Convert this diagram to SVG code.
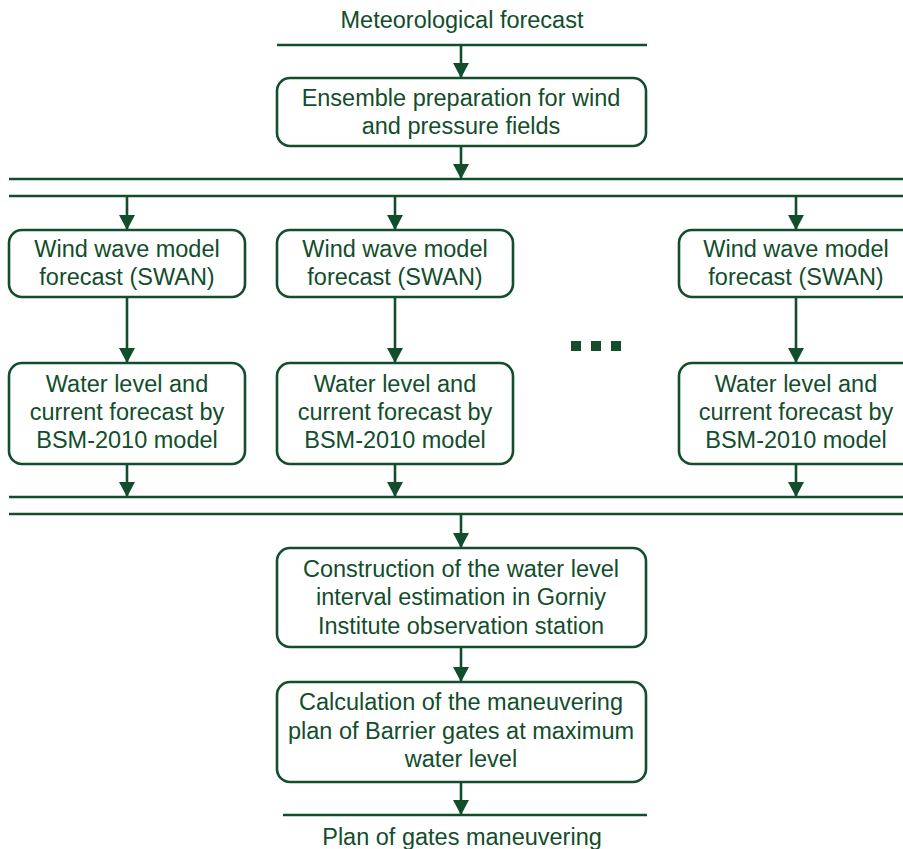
<svg xmlns="http://www.w3.org/2000/svg" width="903" height="849" viewBox="0 0 903 849">
<defs>
<style>
.b{fill:#fff;stroke:#124d2c;stroke-width:2.6}
.l{stroke:#124d2c;stroke-width:2.6;fill:none}
.t{font-family:"Liberation Sans",Arial,sans-serif;font-size:23.5px;fill:#124d2c;text-anchor:middle}
</style>
<marker id="ah" markerWidth="15" markerHeight="16" viewBox="0 0 15 16" refX="15" refY="8" orient="auto" markerUnits="userSpaceOnUse">
<path d="M0,0 L15,8 L0,16 Z" fill="#124d2c"/>
</marker>
</defs>
<rect width="903" height="849" fill="#fff"/>
<g id="connectors">
<line class="l" x1="277" y1="45" x2="647" y2="45"/>
<line class="l" x1="461" y1="45" x2="461" y2="78" marker-end="url(#ah)"/>
<line class="l" x1="461" y1="146" x2="461" y2="179" marker-end="url(#ah)"/>
<line class="l" x1="9" y1="179" x2="903" y2="179"/>
<line class="l" x1="9" y1="196" x2="903" y2="196"/>
<line class="l" x1="127" y1="196" x2="127" y2="230" marker-end="url(#ah)"/>
<line class="l" x1="395" y1="196" x2="395" y2="230" marker-end="url(#ah)"/>
<line class="l" x1="796" y1="196" x2="796" y2="230" marker-end="url(#ah)"/>
<line class="l" x1="127" y1="297" x2="127" y2="363" marker-end="url(#ah)"/>
<line class="l" x1="395" y1="297" x2="395" y2="363" marker-end="url(#ah)"/>
<line class="l" x1="796" y1="297" x2="796" y2="363" marker-end="url(#ah)"/>
<line class="l" x1="127" y1="464" x2="127" y2="497" marker-end="url(#ah)"/>
<line class="l" x1="395" y1="464" x2="395" y2="497" marker-end="url(#ah)"/>
<line class="l" x1="796" y1="464" x2="796" y2="497" marker-end="url(#ah)"/>
<line class="l" x1="9" y1="497" x2="903" y2="497"/>
<line class="l" x1="9" y1="514" x2="903" y2="514"/>
<line class="l" x1="461" y1="514" x2="461" y2="548" marker-end="url(#ah)"/>
<line class="l" x1="461" y1="647" x2="461" y2="682" marker-end="url(#ah)"/>
<line class="l" x1="461" y1="782" x2="461" y2="815" marker-end="url(#ah)"/>
<line class="l" x1="283" y1="815" x2="647" y2="815"/>
</g>
<g id="input"><text class="t" x="462" y="28">Meteorological forecast</text></g>
<g id="ensemble">
<rect class="b" x="277" y="78" width="369" height="68" rx="13"/>
<text class="t" x="461" y="106">Ensemble preparation for wind</text>
<text class="t" x="461" y="134">and pressure fields</text>
</g>
<g id="swan1">
<rect class="b" x="9" y="230" width="236" height="67" rx="13"/>
<text class="t" x="127" y="257">Wind wave model</text>
<text class="t" x="127" y="285">forecast (SWAN)</text>
</g>
<g id="swan2">
<rect class="b" x="277" y="230" width="236" height="67" rx="13"/>
<text class="t" x="395" y="257">Wind wave model</text>
<text class="t" x="395" y="285">forecast (SWAN)</text>
</g>
<g id="swan3">
<rect class="b" x="679" y="230" width="236" height="67" rx="13"/>
<text class="t" x="796" y="257">Wind wave model</text>
<text class="t" x="796" y="285">forecast (SWAN)</text>
</g>
<g id="bsm1">
<rect class="b" x="9" y="363" width="236" height="101" rx="13"/>
<text class="t" x="127" y="392">Water level and</text>
<text class="t" x="127" y="420">current forecast by</text>
<text class="t" x="127" y="448">BSM-2010 model</text>
</g>
<g id="bsm2">
<rect class="b" x="277" y="363" width="236" height="101" rx="13"/>
<text class="t" x="395" y="392">Water level and</text>
<text class="t" x="395" y="420">current forecast by</text>
<text class="t" x="395" y="448">BSM-2010 model</text>
</g>
<g id="bsm3">
<rect class="b" x="679" y="363" width="236" height="101" rx="13"/>
<text class="t" x="796" y="392">Water level and</text>
<text class="t" x="796" y="420">current forecast by</text>
<text class="t" x="796" y="448">BSM-2010 model</text>
</g>
<g id="ellipsis" fill="#124d2c">
<rect x="571" y="341" width="10" height="10"/>
<rect x="591" y="341" width="10" height="10"/>
<rect x="611" y="341" width="10" height="10"/>
</g>
<g id="construction">
<rect class="b" x="277" y="548" width="369" height="99" rx="13"/>
<text class="t" x="461" y="577">Construction of the water level</text>
<text class="t" x="461" y="605">interval estimation in Gorniy</text>
<text class="t" x="461" y="634">Institute observation station</text>
</g>
<g id="calculation">
<rect class="b" x="277" y="682" width="369" height="100" rx="13"/>
<text class="t" x="461" y="710">Calculation of the maneuvering</text>
<text class="t" x="461" y="739">plan of Barrier gates at maximum</text>
<text class="t" x="461" y="767">water level</text>
</g>
<g id="output"><text class="t" x="462" y="845">Plan of gates maneuvering</text></g>
</svg>
